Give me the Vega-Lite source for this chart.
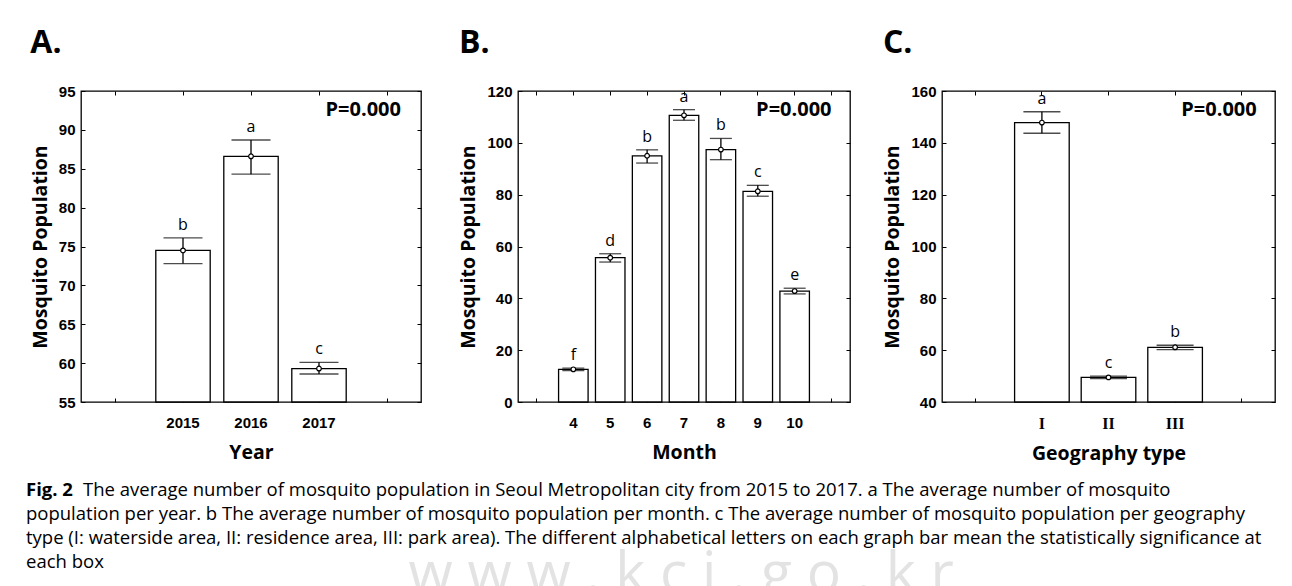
{
  "$schema": "https://vega.github.io/schema/vega-lite/v6.json",
  "background": "white",
  "padding": {"left": 26, "top": 26, "right": 0, "bottom": 0},
  "config": {
    "view": {"stroke": "black", "strokeWidth": 1.3},
    "axis": {"grid": false, "domain": false, "tickColor": "black", "tickSize": -4, "tickWidth": 1, "labelColor": "black", "titleColor": "black", "labelFont": "Liberation Sans", "labelFontWeight": "bold", "labelFontSize": 15, "titleFont": "Open Sans", "titleFontWeight": "bold", "titleFontSize": 19.5},
    "axisY": {"labelPadding": 10, "titlePadding": 8},
    "axisX": {"labelPadding": 17, "titlePadding": 13, "labelAngle": 0},
    "title": {"font": "Open Sans", "fontSize": 32, "fontWeight": "bold", "anchor": "start", "frame": "bounds", "offset": 24, "color": "black"},
    "text": {"font": "Open Sans", "color": "black"}
  },
  "vconcat": [
    {
      "hconcat": [
        {
          "title": "A.",
          "width": 340, "height": 311,
          "data": {"values": [
            {"year": "2015", "mean": 74.5, "lo": 72.8, "hi": 76.1, "grp": "b"},
            {"year": "2016", "mean": 86.6, "lo": 84.3, "hi": 88.7, "grp": "a"},
            {"year": "2017", "mean": 59.3, "lo": 58.6, "hi": 60.1, "grp": "c"}
          ]},
          "layer": [
            {"mark": {"type": "bar", "fill": "white", "stroke": "black", "strokeWidth": 1.3, "width": {"band": 0.8}},
             "encoding": {
               "x": {"field": "year", "type": "nominal", "scale": {"domain": ["", "2015", "2016", "2017", " "], "paddingInner": 0, "paddingOuter": 0}, "axis": {"title": "Year"}},
               "y": {"field": "mean", "type": "quantitative", "scale": {"domain": [55, 95], "nice": false, "zero": false}, "axis": {"title": "Mosquito Population", "values": [55, 60, 65, 70, 75, 80, 85, 90, 95]}},
               "y2": {"datum": 55}
             }},
            {"mark": {"type": "rule", "color": "black", "strokeWidth": 1.3},
             "encoding": {
               "x": {"field": "year", "type": "nominal", "axis": {"orient": "top", "labels": false, "title": null}},
               "y": {"field": "lo", "type": "quantitative", "axis": {"orient": "right", "labels": false, "title": null, "values": [55, 60, 65, 70, 75, 80, 85, 90, 95]}},
               "y2": {"field": "hi"}
             }},
            {"mark": {"type": "tick", "color": "black", "size": 39, "thickness": 1.3},
             "encoding": {"x": {"field": "year", "type": "nominal", "axis": null}, "y": {"field": "lo", "type": "quantitative", "axis": null}}},
            {"mark": {"type": "tick", "color": "black", "size": 39, "thickness": 1.3},
             "encoding": {"x": {"field": "year", "type": "nominal", "axis": null}, "y": {"field": "hi", "type": "quantitative", "axis": null}}},
            {"mark": {"type": "point", "shape": "circle", "filled": true, "fill": "white", "stroke": "black", "strokeWidth": 1.2, "size": 22, "opacity": 1},
             "encoding": {"x": {"field": "year", "type": "nominal", "axis": null}, "y": {"field": "mean", "type": "quantitative", "axis": null}}},
            {"mark": {"type": "text", "fontSize": 16, "baseline": "alphabetic", "dy": -8},
             "encoding": {"x": {"field": "year", "type": "nominal", "axis": null}, "y": {"field": "hi", "type": "quantitative", "axis": null}, "text": {"field": "grp"}}},
            {"data": {"values": [{"p": "P=0.000"}]},
             "mark": {"type": "text", "fontSize": 20, "fontWeight": "bold", "align": "right", "baseline": "top", "dx": 14, "dy": 9},
             "encoding": {"x": {"datum": " ", "type": "nominal", "axis": null}, "y": {"datum": 95, "type": "quantitative", "axis": null}, "text": {"field": "p"}}}
          ],
          "resolve": {"axis": {"x": "independent", "y": "independent"}}
        },
        {
          "hconcat": [
            {
              "title": "B.",
              "width": 332, "height": 311,
              "data": {"values": [
                {"month": "4", "mean": 12.6, "lo": 12.1, "hi": 13.1, "grp": "f"},
                {"month": "5", "mean": 55.7, "lo": 54.0, "hi": 57.2, "grp": "d"},
                {"month": "6", "mean": 95.0, "lo": 92.2, "hi": 97.3, "grp": "b"},
                {"month": "7", "mean": 110.6, "lo": 108.7, "hi": 112.8, "grp": "a"},
                {"month": "8", "mean": 97.4, "lo": 93.5, "hi": 101.7, "grp": "b"},
                {"month": "9", "mean": 81.3, "lo": 79.4, "hi": 83.6, "grp": "c"},
                {"month": "10", "mean": 42.8, "lo": 41.7, "hi": 43.9, "grp": "e"}
              ]},
              "layer": [
                {"mark": {"type": "bar", "fill": "white", "stroke": "black", "strokeWidth": 1.3, "width": {"band": 0.8}},
                 "encoding": {
                   "x": {"field": "month", "type": "nominal", "scale": {"domain": ["", "4", "5", "6", "7", "8", "9", "10", " "], "paddingInner": 0, "paddingOuter": 0}, "axis": {"title": "Month"}},
                   "y": {"field": "mean", "type": "quantitative", "scale": {"domain": [0, 120], "nice": false}, "axis": {"title": "Mosquito Population", "values": [0, 20, 40, 60, 80, 100, 120]}},
                   "y2": {"datum": 0}
                 }},
                {"mark": {"type": "rule", "color": "black", "strokeWidth": 1.3},
                 "encoding": {
                   "x": {"field": "month", "type": "nominal", "axis": {"orient": "top", "labels": false, "title": null}},
                   "y": {"field": "lo", "type": "quantitative", "axis": {"orient": "right", "labels": false, "title": null, "values": [0, 20, 40, 60, 80, 100, 120]}},
                   "y2": {"field": "hi"}
                 }},
                {"mark": {"type": "tick", "color": "black", "size": 22, "thickness": 1.3},
                 "encoding": {"x": {"field": "month", "type": "nominal", "axis": null}, "y": {"field": "lo", "type": "quantitative", "axis": null}}},
                {"mark": {"type": "tick", "color": "black", "size": 22, "thickness": 1.3},
                 "encoding": {"x": {"field": "month", "type": "nominal", "axis": null}, "y": {"field": "hi", "type": "quantitative", "axis": null}}},
                {"mark": {"type": "point", "shape": "circle", "filled": true, "fill": "white", "stroke": "black", "strokeWidth": 1.2, "size": 22, "opacity": 1},
                 "encoding": {"x": {"field": "month", "type": "nominal", "axis": null}, "y": {"field": "mean", "type": "quantitative", "axis": null}}},
                {"mark": {"type": "text", "fontSize": 16, "baseline": "alphabetic", "dy": -8},
                 "encoding": {"x": {"field": "month", "type": "nominal", "axis": null}, "y": {"field": "hi", "type": "quantitative", "axis": null}, "text": {"field": "grp"}}},
                {"data": {"values": [{"p": "P=0.000"}]},
                 "mark": {"type": "text", "fontSize": 20, "fontWeight": "bold", "align": "right", "baseline": "top", "dx": 0, "dy": 9},
                 "encoding": {"x": {"datum": " ", "type": "nominal", "axis": null}, "y": {"datum": 120, "type": "quantitative", "axis": null}, "text": {"field": "p"}}}
              ],
              "resolve": {"axis": {"x": "independent", "y": "independent"}}
            },
            {
              "title": "C.",
              "width": 333, "height": 311,
              "data": {"values": [
                {"geo": "I", "mean": 147.8, "lo": 143.7, "hi": 152.0, "grp": "a"},
                {"geo": "II", "mean": 49.5, "lo": 49.0, "hi": 50.0, "grp": "c"},
                {"geo": "III", "mean": 61.1, "lo": 60.2, "hi": 61.9, "grp": "b"}
              ]},
              "layer": [
                {"mark": {"type": "bar", "fill": "white", "stroke": "black", "strokeWidth": 1.3, "width": {"band": 0.82}},
                 "encoding": {
                   "x": {"field": "geo", "type": "nominal", "scale": {"domain": ["", "I", "II", "III", " "], "paddingInner": 0, "paddingOuter": 0}, "axis": {"title": "Geography type", "labelFont": "Liberation Serif, DejaVu Serif, serif", "labelFontSize": 16}},
                   "y": {"field": "mean", "type": "quantitative", "scale": {"domain": [40, 160], "nice": false, "zero": false}, "axis": {"title": "Mosquito Population", "values": [40, 60, 80, 100, 120, 140, 160]}},
                   "y2": {"datum": 40}
                 }},
                {"mark": {"type": "rule", "color": "black", "strokeWidth": 1.3},
                 "encoding": {
                   "x": {"field": "geo", "type": "nominal", "axis": {"orient": "top", "labels": false, "title": null}},
                   "y": {"field": "lo", "type": "quantitative", "axis": {"orient": "right", "labels": false, "title": null, "values": [40, 60, 80, 100, 120, 140, 160]}},
                   "y2": {"field": "hi"}
                 }},
                {"mark": {"type": "tick", "color": "black", "size": 37, "thickness": 1.3},
                 "encoding": {"x": {"field": "geo", "type": "nominal", "axis": null}, "y": {"field": "lo", "type": "quantitative", "axis": null}}},
                {"mark": {"type": "tick", "color": "black", "size": 37, "thickness": 1.3},
                 "encoding": {"x": {"field": "geo", "type": "nominal", "axis": null}, "y": {"field": "hi", "type": "quantitative", "axis": null}}},
                {"mark": {"type": "point", "shape": "circle", "filled": true, "fill": "white", "stroke": "black", "strokeWidth": 1.2, "size": 22, "opacity": 1},
                 "encoding": {"x": {"field": "geo", "type": "nominal", "axis": null}, "y": {"field": "mean", "type": "quantitative", "axis": null}}},
                {"mark": {"type": "text", "fontSize": 16, "baseline": "alphabetic", "dy": -8},
                 "encoding": {"x": {"field": "geo", "type": "nominal", "axis": null}, "y": {"field": "hi", "type": "quantitative", "axis": null}, "text": {"field": "grp"}}},
                {"data": {"values": [{"p": "P=0.000"}]},
                 "mark": {"type": "text", "fontSize": 20, "fontWeight": "bold", "align": "right", "baseline": "top", "dx": 15, "dy": 9},
                 "encoding": {"x": {"datum": " ", "type": "nominal", "axis": null}, "y": {"datum": 160, "type": "quantitative", "axis": null}, "text": {"field": "p"}}}
              ],
              "resolve": {"axis": {"x": "independent", "y": "independent"}}
            }
          ],
          "spacing": 30
        }
      ],
      "spacing": 35
    },
    {
      "width": 1240, "height": 96,
      "view": {"stroke": null},
      "data": {"values": [
        {"line": 1, "part": "bold", "text": "Fig. 2"},
        {"line": 1, "part": "rest", "text": "The average number of mosquito population in Seoul Metropolitan city from 2015 to 2017. a The average number of mosquito"},
        {"line": 2, "part": "main", "text": "population per year. b The average number of mosquito population per month. c The average number of mosquito population per geography"},
        {"line": 3, "part": "main", "text": "type (I: waterside area, II: residence area, III: park area). The different alphabetical letters on each graph bar mean the statistically significance at"},
        {"line": 4, "part": "main", "text": "each box"}
      ]},
      "layer": [
        {"data": {"values": [{"w": "w w w . k c i . g o . k r"}]},
         "mark": {"type": "text", "fontSize": 57, "color": "#e3e3e3", "align": "center", "baseline": "alphabetic"},
         "encoding": {"x": {"datum": 0.484, "type": "quantitative", "scale": {"domain": [0, 1]}, "axis": null}, "y": {"datum": 5.25, "type": "quantitative", "scale": {"domain": [0.5, 4.5], "reverse": true}, "axis": null}, "text": {"field": "w"}}},
        {"transform": [{"filter": "datum.part === 'bold'"}],
         "mark": {"type": "text", "fontSize": 18.5, "fontWeight": "bold", "align": "left", "baseline": "middle", "dx": -55},
         "encoding": {"x": {"datum": 0, "type": "quantitative", "axis": null}, "y": {"field": "line", "type": "quantitative", "axis": null}, "text": {"field": "text"}}},
        {"transform": [{"filter": "datum.part === 'rest'"}],
         "mark": {"type": "text", "fontSize": 18.5, "align": "left", "baseline": "middle", "dx": 2},
         "encoding": {"x": {"datum": 0, "type": "quantitative", "axis": null}, "y": {"field": "line", "type": "quantitative", "axis": null}, "text": {"field": "text"}}},
        {"transform": [{"filter": "datum.part === 'main'"}],
         "mark": {"type": "text", "fontSize": 18.5, "align": "left", "baseline": "middle", "dx": -55},
         "encoding": {"x": {"datum": 0, "type": "quantitative", "axis": null}, "y": {"field": "line", "type": "quantitative", "axis": null}, "text": {"field": "text"}}}
      ]
    }
  ],
  "spacing": 14
}
